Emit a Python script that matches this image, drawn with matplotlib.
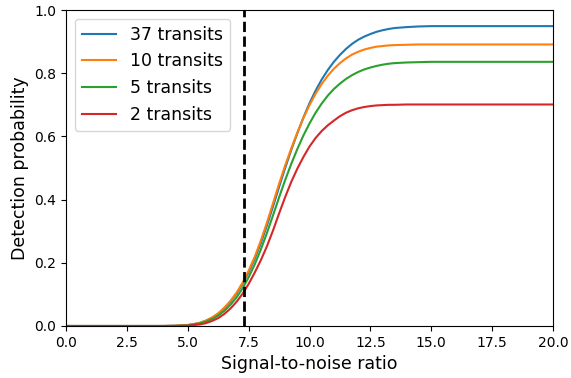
import numpy as np
import matplotlib
matplotlib.use("Agg")
import matplotlib.pyplot as plt

# signal-to-noise grid
snr = [0.0, 2.0, 4.0, 4.5, 4.75,
       5.0, 5.25, 5.5, 5.75, 6.0, 6.25, 6.5, 6.75, 7.0, 7.25, 7.5, 7.75,
       8.0, 8.25, 8.5, 8.75, 9.0, 9.25, 9.5, 9.75, 10.0, 10.25, 10.5, 10.75,
       11.0, 11.25, 11.5, 11.75, 12.0, 12.25, 12.5, 12.75, 13.0, 13.25, 13.5,
       14.0, 14.5, 15.0, 17.5, 20.0]

# detection probability for each number of transits
p_37 = [0.0, 0.0, 0.0, 0.001, 0.002,
        0.003, 0.006, 0.010, 0.017, 0.026, 0.039, 0.056, 0.077, 0.102, 0.133, 0.170, 0.213,
        0.262, 0.318, 0.378, 0.440, 0.500, 0.557, 0.610, 0.660, 0.705, 0.745, 0.780, 0.810,
        0.836, 0.858, 0.877, 0.893, 0.906, 0.916, 0.924, 0.931, 0.936, 0.940, 0.943,
        0.946, 0.948, 0.949, 0.949, 0.949]
p_10 = [0.0, 0.0, 0.0, 0.001, 0.002,
        0.003, 0.006, 0.010, 0.017, 0.027, 0.040, 0.058, 0.079, 0.105, 0.137, 0.175, 0.219,
        0.270, 0.327, 0.388, 0.450, 0.508, 0.562, 0.612, 0.658, 0.699, 0.735, 0.766, 0.792,
        0.814, 0.832, 0.847, 0.859, 0.868, 0.875, 0.880, 0.884, 0.886, 0.888, 0.889,
        0.890, 0.891, 0.891, 0.891, 0.891]
p_5 = [0.0, 0.0, 0.0, 0.0, 0.001,
       0.002, 0.005, 0.008, 0.014, 0.022, 0.033, 0.048, 0.067, 0.090, 0.119, 0.154, 0.195,
       0.242, 0.294, 0.350, 0.407, 0.462, 0.513, 0.560, 0.603, 0.641, 0.675, 0.704, 0.729,
       0.750, 0.767, 0.782, 0.794, 0.804, 0.812, 0.818, 0.823, 0.827, 0.830, 0.832,
       0.834, 0.835, 0.836, 0.836, 0.836]
p_2 = [0.0, 0.0, 0.0, 0.0, 0.0005,
       0.001, 0.003, 0.005, 0.009, 0.016, 0.025, 0.038, 0.055, 0.076, 0.102, 0.133, 0.169,
       0.208, 0.252, 0.302, 0.356, 0.408, 0.456, 0.498, 0.535, 0.568, 0.595, 0.617, 0.635,
       0.650, 0.664, 0.675, 0.683, 0.689, 0.693, 0.696, 0.698, 0.699, 0.700, 0.700,
       0.701, 0.701, 0.701, 0.701, 0.701]

labels = ["37 transits", "10 transits", "5 transits", "2 transits"]
snr_thresh = 7.3

fig = plt.figure(figsize=(5.71, 3.78), dpi=100)
ax = fig.add_axes([0.1156, 0.1376, 0.8529, 0.8359])

for p, lab in zip([p_37, p_10, p_5, p_2], labels):
    ax.plot(snr, p, label=lab, lw=1.5)

ax.axvline(snr_thresh, color="k", ls="--", lw=2)

ax.set_xlim(0, 20)
ax.set_ylim(0, 1)
ax.set_xlabel("Signal-to-noise ratio", fontsize=12.5)
ax.set_ylabel("Detection probability", fontsize=12.5)
ax.legend(loc="upper left", fontsize=12.5)

fig.savefig("out.png", dpi=100)
